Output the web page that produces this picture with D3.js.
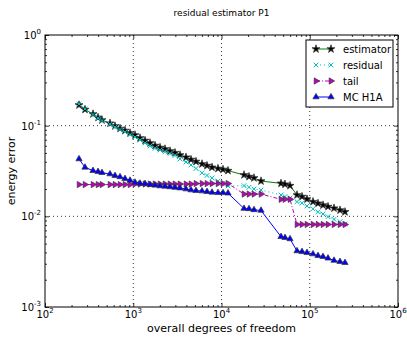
<!DOCTYPE html>
<html>
<head>
<meta charset="utf-8">
<script src="https://cdn.jsdelivr.net/npm/d3@7"></script>
<style>
  body { margin: 0; background: #fff; }
  svg { font-family: "DejaVu Sans", sans-serif; }
  .grid line { stroke: #000; stroke-dasharray: 1,3; stroke-width: 0.8; }
</style>
</head>
<body>
<svg width="407" height="337"></svg>
<script>
// degrees of freedom (shared by all series)
const dofs = [243, 284, 350, 399, 442, 545, 621, 708, 806, 919,
  1047, 1193, 1359, 1548, 1764, 2010, 2290, 2609, 2972, 3386,
  3960, 4511, 5140, 6012, 6849, 7805, 9127, 10399, 11850,
  17990, 20490, 23350, 28040,
  47230, 52420, 59740,
  71720, 81710, 93060, 108840, 124000, 141300, 161000, 188300, 220200, 250800];

const estimator = [0.1690, 0.1508, 0.1345, 0.1231, 0.1155, 0.1062, 0.0992, 0.0931, 0.0885, 0.0830,
  0.0789, 0.0731, 0.0686, 0.0644, 0.0604, 0.0574, 0.0553, 0.0525, 0.0503, 0.0475,
  0.0448, 0.0423, 0.0402, 0.0378, 0.0362, 0.0347, 0.0337, 0.0329, 0.0319,
  0.0286, 0.0274, 0.0265, 0.0245,
  0.0231, 0.0226, 0.0218,
  0.0172, 0.0165, 0.0155, 0.0145, 0.0139, 0.0133, 0.0128, 0.0123, 0.0117, 0.0112];

const residual = [0.1734, 0.1527, 0.1328, 0.1215, 0.1140, 0.1043, 0.0967, 0.0907, 0.0852, 0.0799,
  0.0750, 0.0695, 0.0644, 0.0597, 0.0563, 0.0539, 0.0516, 0.0493, 0.0469, 0.0429,
  0.0397, 0.0368, 0.0337, 0.0301, 0.0282, 0.0265, 0.0245, 0.0231, 0.0216,
  0.0218, 0.0209, 0.0200, 0.0195,
  0.0172, 0.0165, 0.0159,
  0.0145, 0.0140, 0.0130, 0.0121, 0.0112, 0.0106, 0.00991, 0.00928, 0.00873, 0.00823];

const tail = [0.0224, 0.0224, 0.0224, 0.0224, 0.0224, 0.0224, 0.0224, 0.0224, 0.0224, 0.0224,
  0.0227, 0.0227, 0.0227, 0.0227, 0.0227, 0.0227, 0.0227, 0.0227, 0.0227, 0.0227,
  0.0227, 0.0227, 0.0230, 0.0230, 0.0230, 0.0230, 0.0230, 0.0230, 0.0230,
  0.0176, 0.0176, 0.0176, 0.0176,
  0.0154, 0.0154, 0.0154,
  0.00813, 0.00813, 0.00813, 0.00813, 0.00813, 0.00813, 0.00813, 0.00813, 0.00813, 0.00813];

const mcH1A = [0.0429, 0.0347, 0.0319, 0.0311, 0.0303, 0.0293, 0.0281, 0.0272, 0.0260, 0.0249,
  0.0237, 0.0231, 0.0229, 0.0223, 0.0220, 0.0216, 0.0214, 0.0211, 0.0208, 0.0205,
  0.0200, 0.0195, 0.0192, 0.0190, 0.0187, 0.0184, 0.0182, 0.0182, 0.0180,
  0.0122, 0.0121, 0.0118, 0.0116,
  0.00596, 0.00581, 0.00563,
  0.00415, 0.00407, 0.00397, 0.00384, 0.00368, 0.00359, 0.00345, 0.00326, 0.00316, 0.00308];

const xTicks = [1e2, 1e3, 1e4, 1e5, 1e6];
const yTicks = [1e-3, 1e-2, 1e-1, 1e0];

const series = [
  { name: "estimator", values: estimator, color: "#008000", dash: null, marker: "star", fill: "#000" },
  { name: "residual", values: residual, color: "#00bfbf", dash: "1,3", marker: "x", fill: "#00bfbf" },
  { name: "tail", values: tail, color: "#bf00bf", dash: "4,2,1,2", marker: "right", fill: "#bf00bf" },
  { name: "MC H1A", values: mcH1A, color: "#0000ff", dash: null, marker: "up", fill: "#0000ff" }
];

const svg = d3.select("svg");
const margin = { top: 35, right: 9, bottom: 30, left: 45 };
const width = +svg.attr("width") - margin.left - margin.right;
const height = +svg.attr("height") - margin.top - margin.bottom;
const g = svg.append("g").attr("transform", "translate(" + margin.left + "," + margin.top + ")");

const x = d3.scaleLog().domain([1e2, 1e6]).range([0, width]);
const y = d3.scaleLog().domain([1e-3, 1]).range([height, 0]);

// minor ticks
const minorX = [];
for (let e = 2; e < 6; e++) for (let k = 2; k < 10; k++) minorX.push(k * Math.pow(10, e));
const minorY = [];
for (let e = -3; e < 0; e++) for (let k = 2; k < 10; k++) minorY.push(k * Math.pow(10, e));

// grid
g.append("g").attr("class", "grid")
  .selectAll("line").data(xTicks.slice(1, -1)).enter().append("line")
  .attr("x1", d => x(d)).attr("x2", d => x(d)).attr("y1", 0).attr("y2", height);
g.append("g").attr("class", "grid")
  .selectAll("line").data(yTicks.slice(1, -1)).enter().append("line")
  .attr("y1", d => y(d)).attr("y2", d => y(d)).attr("x1", 0).attr("x2", width);

// ticks on all four sides, pointing inward
function ticks(axis, vals, size, transform) {
  g.append("g").attr("transform", transform)
    .call(axis.tickValues(vals).tickSize(size).tickFormat(""))
    .call(a => a.select(".domain").remove())
    .selectAll("line").attr("stroke", "#000").attr("stroke-width", 0.8);
}
ticks(d3.axisBottom(x), xTicks, -4, "translate(0," + height + ")");
ticks(d3.axisBottom(x), minorX, -2, "translate(0," + height + ")");
ticks(d3.axisTop(x), xTicks, -4, "translate(0,0)");
ticks(d3.axisTop(x), minorX, -2, "translate(0,0)");
ticks(d3.axisLeft(y), yTicks, -4, "translate(0,0)");
ticks(d3.axisLeft(y), minorY, -2, "translate(0,0)");
ticks(d3.axisRight(y), yTicks, -4, "translate(" + width + ",0)");
ticks(d3.axisRight(y), minorY, -2, "translate(" + width + ",0)");

// tick labels with superscripts
const xl = g.append("g").selectAll("text").data(xTicks).enter().append("text")
  .attr("x", d => x(d)).attr("y", height + 11)
  .attr("text-anchor", "middle").attr("font-size", 10).attr("fill", "#000");
xl.append("tspan").text("10");
xl.append("tspan").attr("dy", -5).attr("font-size", 7).text(d => Math.round(Math.log10(d)));

const yl = g.append("g").selectAll("text").data(yTicks).enter().append("text")
  .attr("x", -4).attr("y", d => y(d) + 4)
  .attr("text-anchor", "end").attr("font-size", 10).attr("fill", "#000");
yl.append("tspan").text("10");
yl.append("tspan").attr("dy", -5).attr("font-size", 7).text(d => Math.round(Math.log10(d)));

// frame
g.append("rect").attr("width", width).attr("height", height)
  .attr("fill", "none").attr("stroke", "#000").attr("stroke-width", 1);

// markers
function markerPath(type) {
  if (type === "star") return d3.symbol(d3.symbolStar, 20)();
  if (type === "x") return d3.symbol(d3.symbolX, 16)();
  return d3.symbol(d3.symbolTriangle, 17)();
}
function drawMarker(sel, s) {
  const p = sel.append("path").attr("d", markerPath(s.marker));
  if (s.marker === "x") {
    p.attr("fill", "none").attr("stroke", s.color).attr("stroke-width", 1);
  } else {
    p.attr("fill", s.fill).attr("stroke", "#333").attr("stroke-width", 0.7);
  }
  if (s.marker === "right") p.attr("transform", "rotate(90)");
  return p;
}

const line = d3.line().x(d => x(d[0])).y(d => y(d[1]));

series.forEach(s => {
  const pts = dofs.map((d, i) => [d, s.values[i]]);
  g.append("path").datum(pts).attr("d", line)
    .attr("fill", "none").attr("stroke", s.color).attr("stroke-width", 1)
    .attr("stroke-dasharray", s.dash);
  g.append("g").selectAll("g").data(pts).enter().append("g")
    .attr("transform", d => "translate(" + x(d[0]) + "," + y(d[1]) + ")")
    .each(function () { drawMarker(d3.select(this), s); });
});

// legend
const lg = svg.append("g").attr("transform", "translate(306,40)");
lg.append("rect").attr("width", 87).attr("height", 67)
  .attr("fill", "#fff").attr("stroke", "#000").attr("stroke-width", 1);
series.forEach((s, i) => {
  const row = lg.append("g").attr("transform", "translate(0," + (9 + i * 16) + ")");
  row.append("line").attr("x1", 10).attr("x2", 25).attr("y1", 0).attr("y2", 0)
    .attr("stroke", s.color).attr("stroke-width", 1).attr("stroke-dasharray", s.dash);
  drawMarker(row.append("g").attr("transform", "translate(10,0)"), s);
  drawMarker(row.append("g").attr("transform", "translate(25,0)"), s);
  row.append("text").attr("x", 37).attr("y", 4).attr("font-size", 10).text(s.name);
});

// title and axis labels
svg.append("text").attr("x", margin.left + width / 2).attr("y", 16)
  .attr("text-anchor", "middle").attr("font-size", 9).text("residual estimator P1");
svg.append("text").attr("x", margin.left + width / 2).attr("y", 332)
  .attr("text-anchor", "middle").attr("font-size", 11).text("overall degrees of freedom");
svg.append("text").attr("transform", "translate(15," + (margin.top + height / 2) + ") rotate(-90)")
  .attr("text-anchor", "middle").attr("font-size", 11).text("energy error");
</script>
</body>
</html>
